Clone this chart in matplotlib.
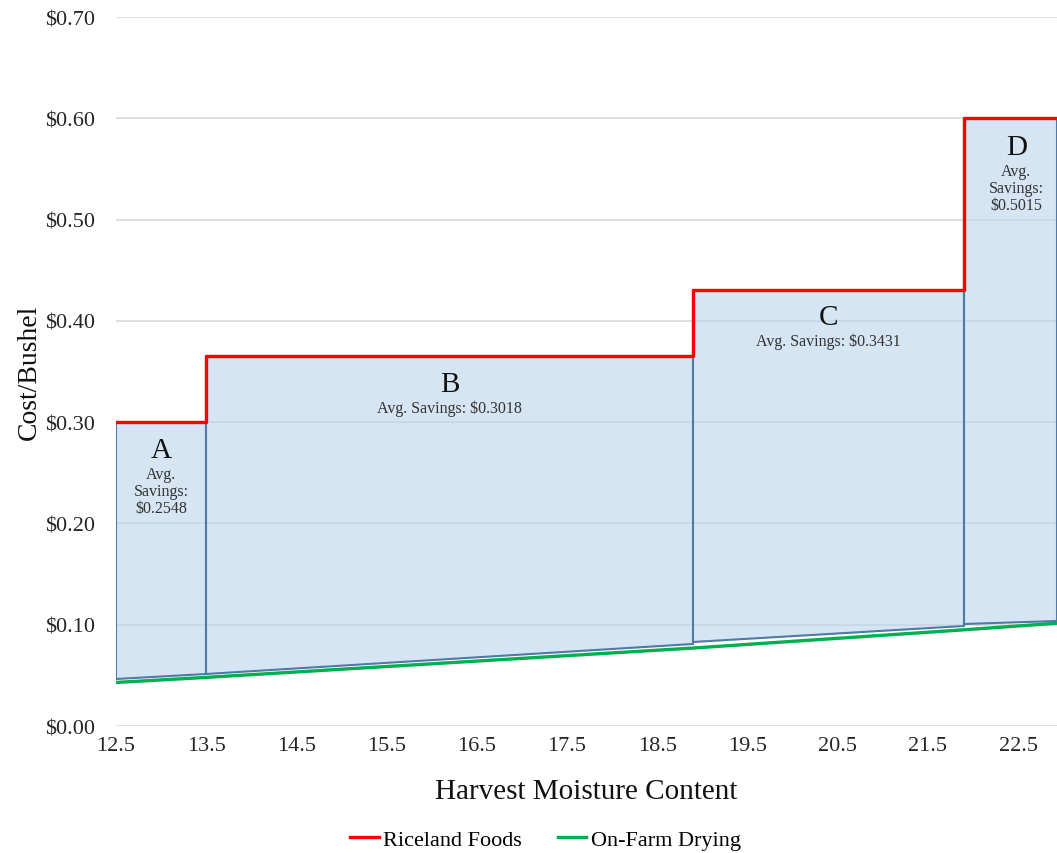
import matplotlib.pyplot as plt

plt.rcParams['font.family'] = ['Liberation Serif', 'DejaVu Serif']

# region boundaries on the moisture axis (last value = right edge of the plot)
edges = [12.5, 13.5, 18.9, 21.9, 22.93]
riceland = [0.30, 0.365, 0.43, 0.60]          # Riceland Foods cost per region
fill_low_start = [0.046, 0.051, 0.083, 0.1007]  # shaded area lower edge, left side
fill_low_end = [0.051, 0.081, 0.099, 0.104]     # shaded area lower edge, right side
onfarm_x = [12.5, 13.5, 18.9, 21.9, 22.93]
onfarm_y = [0.043, 0.048, 0.077, 0.095, 0.1015]

letters = ['A', 'B', 'C', 'D']
savings = ['Avg.\nSavings:\n$0.2548', 'Avg. Savings: $0.3018',
           'Avg. Savings: $0.3431', 'Avg.\nSavings:\n$0.5015']
letter_x = [13.0, 16.2, 20.4, 22.48]
letter_y = [0.273, 0.338, 0.404, 0.572]
text_y = [0.257, 0.322, 0.389, 0.556]

fig = plt.figure(figsize=(10.57, 8.54), dpi=100)
ax = fig.add_axes([0.1097, 0.1487, 0.8903, 0.8302])

for i in range(4):
    x0, x1 = edges[i], edges[i + 1]
    xs = [x0, x0, x1, x1]
    ys = [fill_low_start[i], riceland[i], riceland[i], fill_low_end[i]]
    ax.fill(xs, ys, facecolor=(0.74, 0.84, 0.93, 0.62), edgecolor='#4f79a7',
            linewidth=1.5, zorder=2)
    ax.text(letter_x[i], letter_y[i], letters[i], ha='center', va='center',
            fontsize=21, color='#111111', zorder=5)
    ax.text(letter_x[i], text_y[i], savings[i], ha='center', va='top',
            fontsize=11.5, color='#333333', linespacing=1.1, zorder=5)

step_x = edges[:-1] + [edges[-1]]
step_y = riceland + [riceland[-1]]
ax.step(step_x, step_y, where='post', color='#ff0000', linewidth=2.4,
        label='Riceland Foods', zorder=4)
ax.plot(onfarm_x, onfarm_y, color='#00b050', linewidth=2.4,
        label='On-Farm Drying', zorder=4)

ax.set_xlim(12.5, 22.93)
ax.set_ylim(0, 0.70)
ax.set_xticks([12.5 + k for k in range(11)])
ax.set_xticklabels([f'{12.5 + k:.1f}' for k in range(11)])
ax.set_yticks([k / 10 for k in range(8)])
ax.set_yticklabels([f'${k / 10:.2f}' for k in range(8)])
ax.tick_params(length=0, labelsize=16, colors='#262626')
ax.tick_params(axis='y', pad=15)
ax.tick_params(axis='x', pad=7)
ax.grid(axis='y', color='#d9d9d9', linewidth=1.2, zorder=0)
ax.set_axisbelow(True)
for s in ax.spines.values():
    s.set_visible(False)

ax.set_xlabel('Harvest Moisture Content', fontsize=21, color='#111111', labelpad=17)
ax.set_ylabel('Cost/Bushel', fontsize=20, color='#111111', labelpad=2)

fig.legend(loc='lower center', bbox_to_anchor=(0.516, -0.02), ncol=2, frameon=False,
           fontsize=16, handlelength=1.3, columnspacing=1.6, handletextpad=0.2)

fig.savefig('out.png', dpi=100)
